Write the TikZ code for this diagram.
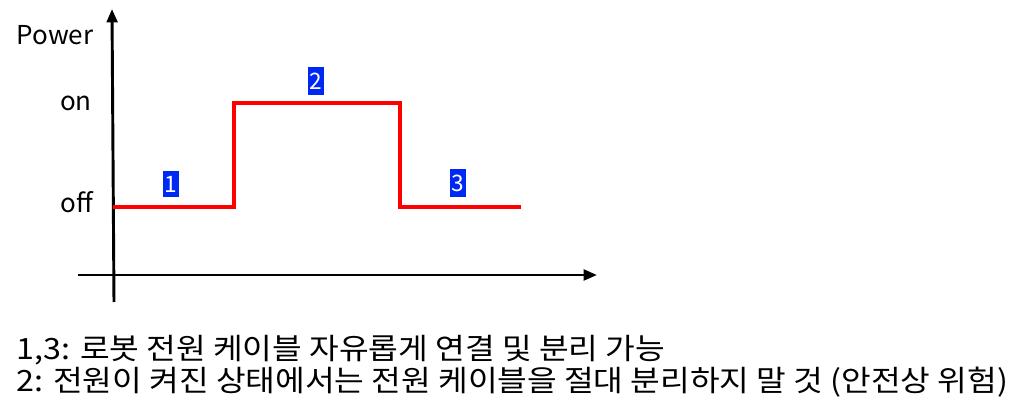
\documentclass[tikz,border=0pt]{standalone}
\usepackage{fontspec}
\setmainfont{Noto Sans CJK KR}
\usepackage{tikz}
\usetikzlibrary{arrows.meta}
\definecolor{tagblue}{RGB}{0,40,245}
\tikzset{
  tag/.style={fill=tagblue, text=white, inner xsep=1pt, inner ysep=4pt, font=\fontsize{17}{20}\selectfont},
  axis/.style={line width=2.2pt, -{Triangle[length=10pt,width=8pt]}},
  lbl/.style={font=\fontsize{19.5}{23}\selectfont},
  note/.style={anchor=west, font=\fontsize{22}{26}\selectfont},
}

\begin{document}
\begin{tikzpicture}[x=0.75pt, y=-0.75pt]
        \useasboundingbox (0,0) rectangle (1013,417);
        % axes
        \draw [axis] (78, 275) -- (597, 275);
        \draw [axis] (114, 302) -- (112, 9);
        \node [lbl, anchor=west] (power) at (12, 35) {Power};
        \node [lbl] (on) at (76, 103) {on};
        \node [lbl] (off) at (77, 202) {off};
        % power signal
        \draw [red, line width=2.4pt] (113, 207) -- (234, 207) -- (234, 103)
            -- (400, 103) -- (400, 207) -- (521, 207);
        \node [tag] (t1) at (171, 184) {1};
        \node [tag] (t2) at (316, 81) {2};
        \node [tag] (t3) at (458, 183) {3};
        % notes
        \node [note] (n1) at (12, 350)
            {\scalebox{1.1}[1]{1,3: 로봇 전원 케이블 자유롭게 연결 및 분리 가능}};
        \node [note] (n2) at (12, 382)
            {\scalebox{1.1}[1]{2: 전원이 켜진 상태에서는 전원 케이블을 절대 분리하지 말 것 (안전상 위험)}};
    \end{tikzpicture}
\end{document}
